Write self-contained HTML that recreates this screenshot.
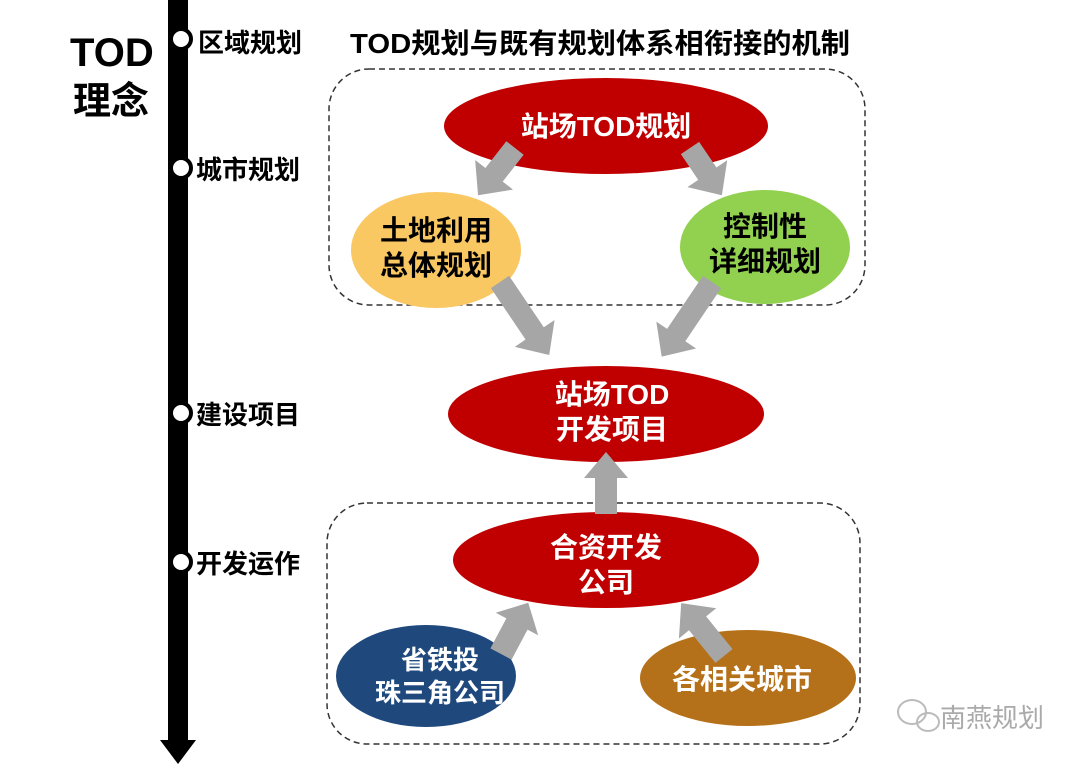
<!DOCTYPE html>
<html><head><meta charset="utf-8"><style>
html,body{margin:0;padding:0;background:#fff;}
svg{display:block;}
text{font-family:"Liberation Sans","Noto Sans CJK SC",sans-serif;font-weight:bold;}
</style></head><body>
<svg width="1080" height="764" viewBox="0 0 1080 764" xmlns="http://www.w3.org/2000/svg">
<!-- timeline -->
<rect x="168" y="0" width="20" height="742" fill="#000"/>
<polygon points="160,740 196,740 178,764" fill="#000"/>
<g fill="#fff" stroke="#000" stroke-width="4">
<circle cx="181" cy="39" r="10"/>
<circle cx="181" cy="168" r="10"/>
<circle cx="181" cy="413" r="10"/>
<circle cx="181" cy="562" r="10"/>
</g>
<g font-size="26" fill="#000">
<text x="198" y="52">区域规划</text>
<text x="196" y="179">城市规划</text>
<text x="196" y="424">建设项目</text>
<text x="196" y="573">开发运作</text>
</g>
<text x="70" y="66" font-size="40" fill="#000">TOD</text>
<text x="73" y="114" font-size="38" fill="#000">理念</text>
<text x="350" y="53" font-size="28" fill="#000" textLength="500" lengthAdjust="spacingAndGlyphs">TOD规划与既有规划体系相衔接的机制</text>
<!-- dashed boxes -->
<rect x="329" y="69" width="536" height="236" rx="40" fill="none" stroke="#333" stroke-width="1.5" stroke-dasharray="6,4"/>
<rect x="327" y="503" width="533" height="241" rx="40" fill="none" stroke="#333" stroke-width="1.5" stroke-dasharray="6,4"/>
<!-- ellipses -->
<ellipse cx="606" cy="126" rx="162" ry="48" fill="#c00000"/>
<ellipse cx="436" cy="250" rx="85" ry="58" fill="#fac862"/>
<ellipse cx="765" cy="247" rx="85" ry="57" fill="#92d050"/>
<ellipse cx="606" cy="414" rx="158" ry="48" fill="#c00000"/>
<ellipse cx="606" cy="560" rx="153" ry="48" fill="#c00000"/>
<ellipse cx="426" cy="676" rx="90" ry="51" fill="#1f497d"/>
<ellipse cx="748" cy="678" rx="108" ry="48" fill="#b5711a"/>
<!-- arrows -->
<g fill="#a6a6a6">
<g transform="translate(515,148) rotate(128)"><polygon points="0,-11 34,-11 34,-24 60,0 34,24 34,11 0,11"/></g>
<g transform="translate(690,148) rotate(56)"><polygon points="0,-11 31,-11 31,-24 57,0 31,24 31,11 0,11"/></g>
<g transform="translate(500,282) rotate(56)"><polygon points="0,-11 62,-11 62,-24 88,0 62,24 62,11 0,11"/></g>
<g transform="translate(712,282) rotate(124)"><polygon points="0,-11 64,-11 64,-24 90,0 64,24 64,11 0,11"/></g>
<g transform="translate(606,514) rotate(-90)"><polygon points="0,-11 36,-11 36,-22 62,0 36,22 36,11 0,11"/></g>
<g transform="translate(501,654) rotate(-62)"><polygon points="0,-12 34,-12 34,-24 58,0 34,24 34,12 0,12"/></g>
<g transform="translate(724,656) rotate(-129)"><polygon points="0,-11 42,-11 42,-24 68,0 42,24 42,11 0,11"/></g>
</g>
<!-- labels -->
<g font-size="28" text-anchor="middle">
<text x="606" y="136" fill="#fff">站场TOD规划</text>
<text x="436" y="240" fill="#000">土地利用</text>
<text x="436" y="275" fill="#000">总体规划</text>
<text x="765" y="236" fill="#000">控制性</text>
<text x="765" y="271" fill="#000">详细规划</text>
<text x="612" y="404" fill="#fff">站场TOD</text>
<text x="612" y="439" fill="#fff">开发项目</text>
<text x="606" y="557" fill="#fff">合资开发</text>
<text x="606" y="592" fill="#fff">公司</text>
<text x="742" y="689" fill="#fff">各相关城市</text>
</g>
<g font-size="26" text-anchor="middle" fill="#fff">
<text x="440" y="669">省铁投</text>
<text x="440" y="702">珠三角公司</text>
</g>
<!-- watermark -->
<g fill="none" stroke="#bbb" stroke-width="2">
<ellipse cx="912" cy="712" rx="14" ry="12"/>
<ellipse cx="928" cy="722" rx="11" ry="9"/>
</g>
<text x="940" y="727" font-size="26" fill="#aaa" style="font-weight:normal">南燕规划</text>
</svg>
</body></html>
